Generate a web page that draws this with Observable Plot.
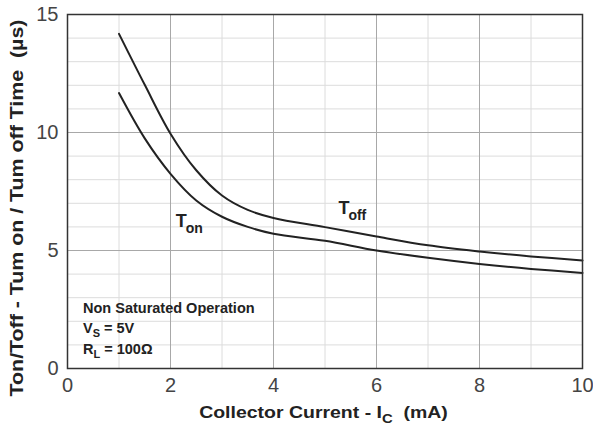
<!DOCTYPE html>
<html><head><meta charset="utf-8">
<script src="https://cdn.jsdelivr.net/npm/d3@7"></script>
<script src="https://cdn.jsdelivr.net/npm/@observablehq/plot@0.6"></script>
<style>body{margin:0;background:#fff;font-family:"Liberation Sans",Arial,sans-serif}</style>
</head><body><div id="chart"></div>
<script>
const current = [1, 1.5, 2, 2.5, 3, 3.5, 4, 5, 6, 7, 8, 9, 10];
const tOff = [14.18, 12.02, 9.95, 8.4, 7.33, 6.72, 6.38, 5.99, 5.59, 5.22, 4.96, 4.75, 4.58];
const tOn  = [11.67, 9.75, 8.25, 7.12, 6.43, 6.0, 5.71, 5.41, 5.0, 4.69, 4.43, 4.22, 4.05];
const xTicks = [0, 2, 4, 6, 8, 10];
const yTicks = [0, 5, 10, 15];
const xMinor = [1, 3, 5, 7, 9];
const xMajor = [2, 4, 6, 8];
const yMinor = [1, 2, 3, 4, 6, 7, 8, 9, 11, 12, 13, 14];
const yMajor = [5, 10];

const offData = current.map((x, i) => ({x, y: tOff[i]}));
const onData = current.map((x, i) => ({x, y: tOn[i]}));
const FONT = "Liberation Sans, Arial, sans-serif";

const chart = Plot.plot({
  width: 593, height: 430,
  marginLeft: 67, marginRight: 11, marginTop: 14, marginBottom: 62,
  style: {fontFamily: FONT, background: "#fff"},
  x: {domain: [0, 10], label: null},
  y: {domain: [0, 15], label: null},
  marks: [
    Plot.ruleX(xMinor, {stroke: "#dcdcdc", strokeWidth: 1}),
    Plot.ruleY(yMinor, {stroke: "#dcdcdc", strokeWidth: 1}),
    Plot.ruleX(xMajor, {stroke: "#a8a8a8", strokeWidth: 1}),
    Plot.ruleY(yMajor, {stroke: "#a8a8a8", strokeWidth: 1}),
    Plot.line(offData, {x: "x", y: "y", curve: "catmull-rom", stroke: "#222", strokeWidth: 2}),
    Plot.line(onData, {x: "x", y: "y", curve: "catmull-rom", stroke: "#222", strokeWidth: 2}),
    Plot.frame({stroke: "#333", strokeWidth: 1.5}),
    Plot.axisX({ticks: xTicks, tickSize: 0, tickPadding: 9, fontSize: 20, fill: "#444", label: null}),
    Plot.axisY({ticks: yTicks, tickSize: 0, tickPadding: 9, fontSize: 20, fill: "#444", label: null}),
    Plot.text([{x: 2.1, y: 6.0}], {x: "x", y: "y", text: () => "T", fontSize: 18, fontWeight: "bold", fill: "#222", textAnchor: "start", lineAnchor: "bottom"}),
    Plot.text([{x: 2.1, y: 6.0}], {x: "x", y: "y", text: () => "on", fontSize: 14, fontWeight: "bold", fill: "#222", textAnchor: "start", lineAnchor: "bottom", dx: 10, dy: 6}),
    Plot.text([{x: 5.26, y: 6.55}], {x: "x", y: "y", text: () => "T", fontSize: 18, fontWeight: "bold", fill: "#222", textAnchor: "start", lineAnchor: "bottom"}),
    Plot.text([{x: 5.26, y: 6.55}], {x: "x", y: "y", text: () => "off", fontSize: 14, fontWeight: "bold", fill: "#222", textAnchor: "start", lineAnchor: "bottom", dx: 10, dy: 6})
  ]
});

document.getElementById("chart").appendChild(chart);
const svg = d3.select(chart);

// annotation block
const ann = svg.append("g").attr("font-family", FONT).attr("font-weight", "bold").attr("fill", "#222").attr("text-anchor", "start");
ann.append("text").attr("x", 83).attr("y", 313).attr("font-size", 14.5).text("Non Saturated Operation");
const vs = ann.append("text").attr("x", 83).attr("y", 333).attr("font-size", 14.5);
vs.append("tspan").text("V");
vs.append("tspan").attr("font-size", 11).attr("dy", 4).text("S");
vs.append("tspan").attr("dy", -4).text(" = 5V");
const rl = ann.append("text").attr("x", 83).attr("y", 354).attr("font-size", 14.5);
rl.append("tspan").text("R");
rl.append("tspan").attr("font-size", 11).attr("dy", 4).text("L");
rl.append("tspan").attr("dy", -4).text(" = 100\u03A9");

// x axis label (stretched to match reference width)
const xl = svg.append("text").attr("x", 0).attr("y", 0).attr("text-anchor", "middle")
  .attr("font-size", 17).attr("font-weight", "bold").attr("fill", "#222")
  .attr("font-family", FONT).style("white-space", "pre");
xl.append("tspan").text("Collector Current - I");
xl.append("tspan").attr("font-size", 13).attr("dy", 5).text("C");
xl.append("tspan").attr("dy", -5).text("  (mA)");
const xw = xl.node().getBBox().width || 217;
xl.attr("transform", `translate(323.5,418) scale(${249 / xw},1)`);

// y axis label
const yl = svg.append("text").attr("x", 0).attr("y", 0).attr("text-anchor", "middle")
  .attr("font-size", 19).attr("font-weight", "bold").attr("fill", "#222")
  .attr("font-family", FONT).style("white-space", "pre")
  .text("Ton/Toff - Tum on / Tum off Time  (\u00B5s)");
const yw = yl.node().getBBox().width || 313;
yl.attr("transform", `translate(23,208) rotate(-90) scale(${377 / yw},1)`);
</script></body></html>
